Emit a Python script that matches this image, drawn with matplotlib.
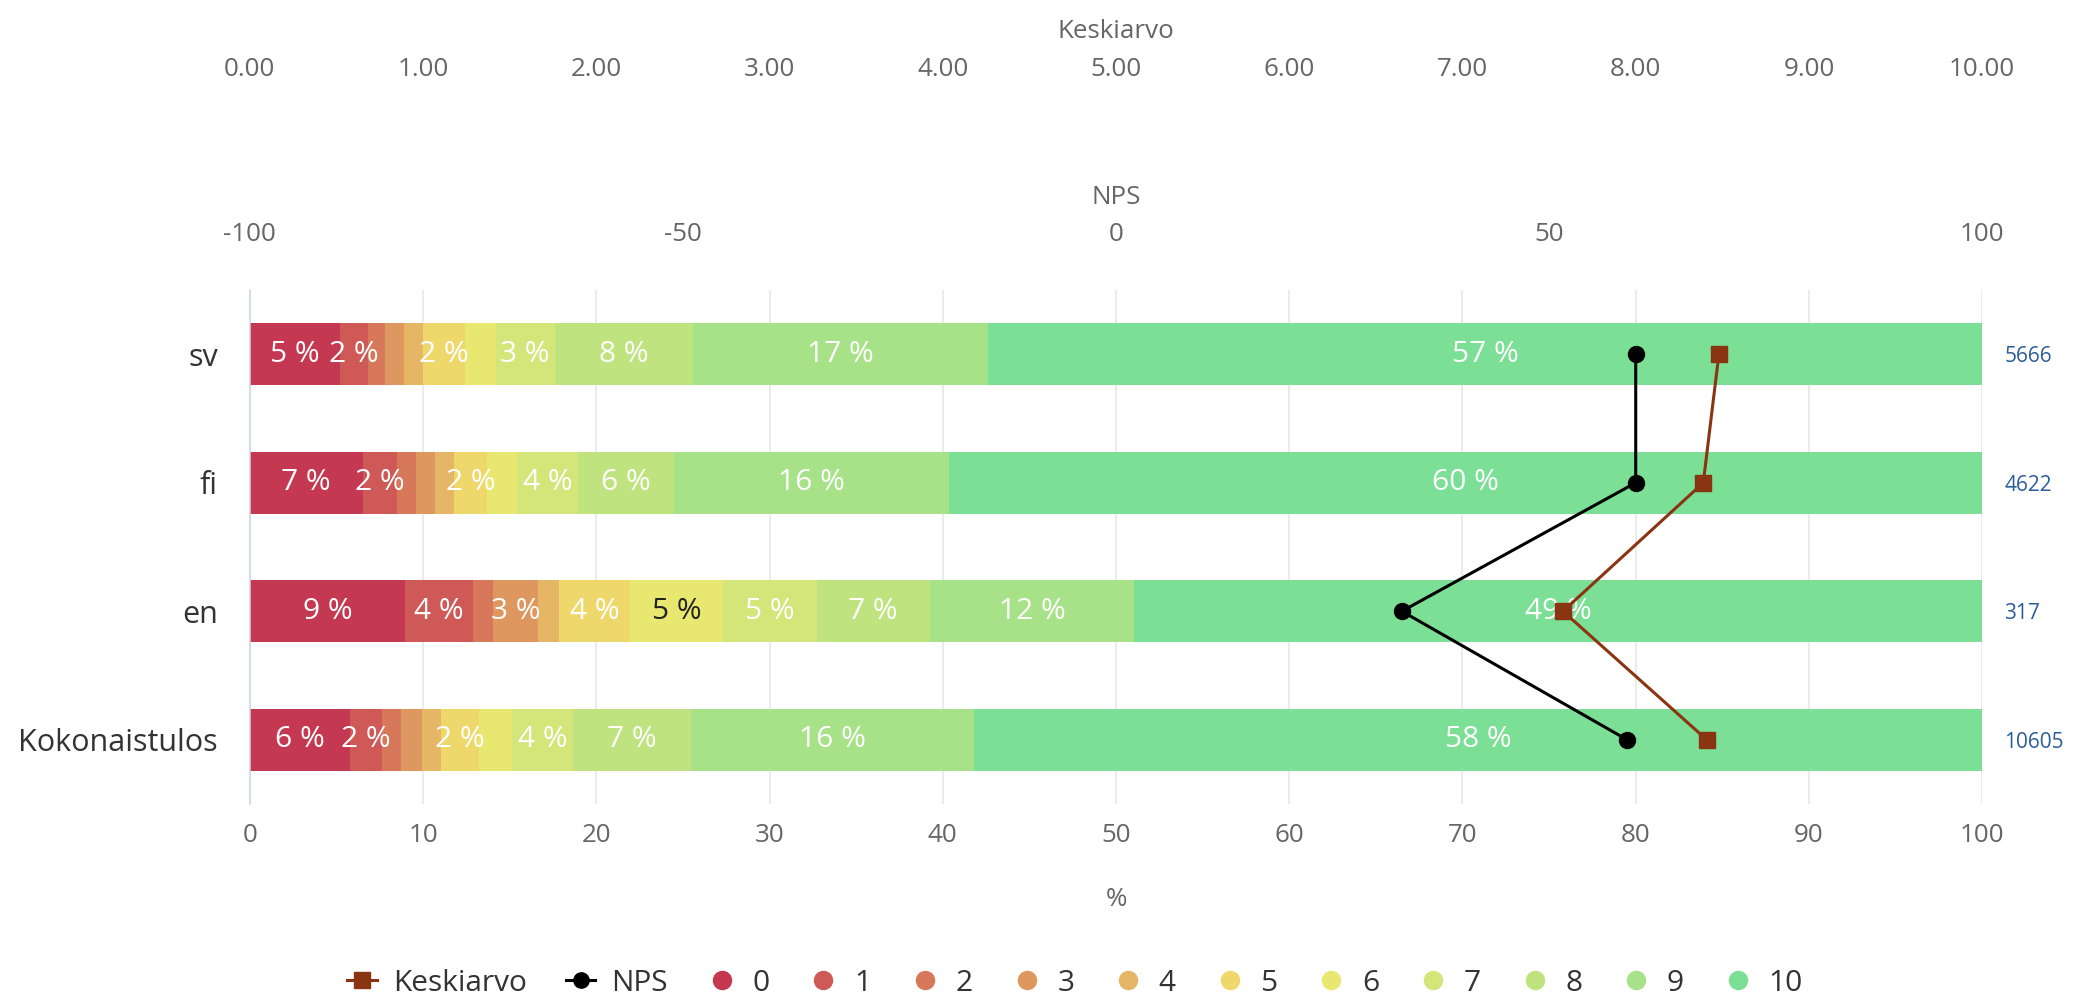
import matplotlib
matplotlib.use("Agg")
import matplotlib.pyplot as plt
from matplotlib.lines import Line2D
import numpy as np

plt.rcParams['font.family'] = ['Open Sans', 'DejaVu Sans']
plt.rcParams['axes.unicode_minus'] = False

# data
categories = ['sv', 'fi', 'en', 'Kokonaistulos']
answers = ['0', '1', '2', '3', '4', '5', '6', '7', '8', '9', '10']

sv = [5.2, 1.6, 1.0, 1.1, 1.1, 2.4, 1.8, 3.4, 8.0, 17.0, 57.4]
fi = [6.52, 1.96, 1.10, 1.09, 1.10, 1.94, 1.70, 3.55, 5.52, 15.87, 59.65]
en = [8.98, 3.88, 1.20, 2.56, 1.21, 4.12, 5.35, 5.42, 6.54, 11.78, 48.96]
kokonais = [5.81, 1.82, 1.10, 1.23, 1.08, 2.17, 1.93, 3.52, 6.79, 16.37, 58.18]

nps = [60, 60, 33, 59]
keskiarvo = [8.48, 8.39, 7.58, 8.41]
respondents = [5666, 4622, 317, 10605]

colors = ['#c53851', '#cf5956', '#d7785a', '#de975e', '#e5b665', '#efd86b',
          '#e8e871', '#d4e67a', '#bfe47f', '#a8e288', '#7bdf95']
dark_label = '6'

rows = [sv, fi, en, kokonais]
y = np.arange(len(categories))

fig = plt.figure(figsize=(20.85, 9.97), dpi=100)
ax = fig.add_axes([0.1198, 0.1936, 0.8309, 0.5155])

texts_by_row = []
for i, row in enumerate(rows):
    left = 0
    row_texts = []
    for j, val in enumerate(row):
        ax.barh(y[i], val, left=left, height=0.48, color=colors[j], linewidth=0)
        col = '#222222' if answers[j] == dark_label else 'white'
        t = ax.text(left + val / 2, y[i], f'{round(val)} %', ha='center', va='center',
                    color=col, fontsize=21.5)
        row_texts.append((val, left + val / 2, t))
        left += val
    texts_by_row.append(row_texts)

ax.set_xlim(0, 100)
ax.set_ylim(3.5, -0.5)
ax.set_xticks(np.arange(0, 101, 10))
ax.set_yticks(y, labels=categories)
ax.grid(axis='x', color='#e6e6e6', linewidth=1.1)
ax.set_axisbelow(True)
for s in ['top', 'right', 'bottom']:
    ax.spines[s].set_visible(False)
ax.spines['left'].set_color('#ccd6eb')
ax.spines['left'].set_linewidth(1.1)
ax.tick_params(axis='x', length=0, pad=14, labelsize=18.7, labelcolor='#666666')
ax.tick_params(axis='y', length=0, pad=23, labelsize=22, labelcolor='#333333')
ax.set_xlabel('%', fontsize=18.7, color='#666666', labelpad=28)

# NPS axis
ax_nps = ax.twiny()
ax_nps.set_xlim(-100, 100)
ax_nps.set_xticks([-100, -50, 0, 50, 100])
ax_nps.tick_params(axis='x', length=0, pad=31, labelsize=18.7, labelcolor='#666666')
ax_nps.set_xlabel('NPS', fontsize=18.7, color='#666666', labelpad=13)
for s in ax_nps.spines.values():
    s.set_visible(False)
ax_nps.plot(nps, y, color='black', marker='o', linewidth=2.2, markersize=11.5)

# Keskiarvo axis
ax_k = ax.twiny()
ax_k.set_xlim(0, 10)
kticks = np.arange(0, 11)
ax_k.set_xticks(kticks, labels=[f'{t:.2f}' for t in kticks])
ax_k.tick_params(axis='x', length=0, pad=150, labelsize=18.7, labelcolor='#666666')
ax_k.set_xlabel('Keskiarvo', fontsize=18.7, color='#666666', labelpad=13.7)
for s in ax_k.spines.values():
    s.set_visible(False)
ax_k.plot(keskiarvo, y, color='#8a3412', marker='s', linewidth=2.2, markersize=12)

# respondent counts on the right
ax_n = ax.twinx()
ax_n.set_ylim(3.5, -0.5)
ax_n.set_yticks(y, labels=[str(n) for n in respondents])
ax_n.tick_params(axis='y', length=0, pad=16, labelsize=15, labelcolor='#2b5c9a')
for s in ax_n.spines.values():
    s.set_visible(False)

# hide data labels that would overlap, bigger values win
fig.canvas.draw()
renderer = fig.canvas.get_renderer()
px_per_pct = ax.get_window_extent(renderer).width / 100
for row_texts in texts_by_row:
    placed = []
    for val, center, t in sorted(row_texts, key=lambda r: -r[0]):
        half = t.get_window_extent(renderer).width / px_per_pct / 2
        if any(abs(center - c) < half + h for c, h in placed):
            t.set_visible(False)
        else:
            placed.append((center, half))

handles = [Line2D([], [], color='#8a3412', marker='s', linewidth=2.2, markersize=11),
           Line2D([], [], color='black', marker='o', linewidth=2.2, markersize=11)]
for c in colors:
    handles.append(Line2D([], [], color=c, marker='o', linewidth=0, markersize=13))
fig.legend(handles, ['Keskiarvo', 'NPS'] + answers, loc='center', bbox_to_anchor=(0.5156, 0.014),
           ncol=13, frameon=False, fontsize=21.5, handlelength=1.0, handletextpad=0.53,
           columnspacing=1.3, borderpad=0, labelcolor='#333333')

fig.savefig('out.png', dpi=100)
